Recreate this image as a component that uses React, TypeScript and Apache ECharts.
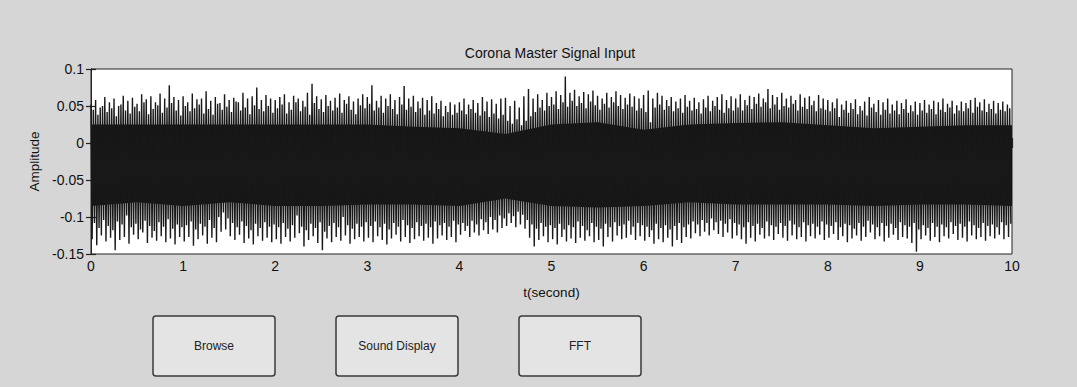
import React, { useEffect, useRef } from "react";
import * as echarts from "echarts";

// ---- Data ----
const TITLE = "Corona Master Signal Input";
const X_NAME = "t(second)";
const Y_NAME = "Amplitude";
const BUTTONS = ["Browse", "Sound Display", "FFT"];

// tall upper spike tips, one every 0.05 s starting at t = 0
const upTips = [
  0.052, 0.058, 0.048, 0.062, 0.055, 0.06, 0.05, 0.064, 0.057, 0.061, 0.053, 0.066, 0.059, 0.063, 0.055, 0.067, 0.06, 0.078, 0.062, 0.058,
  0.063, 0.055, 0.067, 0.059, 0.06, 0.07, 0.057, 0.062, 0.054, 0.066, 0.058, 0.061, 0.055, 0.068, 0.06, 0.063, 0.075, 0.058, 0.065, 0.06,
  0.058, 0.062, 0.066, 0.055, 0.064, 0.06, 0.057, 0.068, 0.08, 0.063, 0.059, 0.065, 0.057, 0.061, 0.067, 0.058, 0.063, 0.056, 0.06, 0.066,
  0.062, 0.078, 0.057, 0.064, 0.06, 0.066, 0.058, 0.062, 0.077, 0.06, 0.064, 0.056, 0.061, 0.058, 0.063, 0.054, 0.057, 0.05, 0.055, 0.052,
  0.055, 0.06, 0.052, 0.058, 0.054, 0.062, 0.056, 0.059, 0.053, 0.06, 0.061, 0.05, 0.057, 0.048, 0.063, 0.073, 0.06, 0.066, 0.058, 0.068,
  0.062, 0.07, 0.065, 0.09, 0.068, 0.072, 0.063, 0.069, 0.066, 0.071, 0.064, 0.06, 0.068, 0.062, 0.07, 0.065, 0.061, 0.067, 0.063, 0.06,
  0.065, 0.071, 0.06, 0.068, 0.064, 0.058, 0.062, 0.056, 0.06, 0.065, 0.057, 0.061, 0.055, 0.059, 0.064, 0.057, 0.062, 0.066, 0.058, 0.063,
  0.06, 0.066, 0.058, 0.064, 0.062, 0.067, 0.06, 0.073, 0.065, 0.062, 0.068, 0.06, 0.064, 0.058, 0.066, 0.061, 0.063, 0.057, 0.065, 0.06,
  0.058, 0.055, 0.06, 0.052, 0.057, 0.054, 0.059, 0.05, 0.056, 0.062, 0.053, 0.058, 0.055, 0.06, 0.052, 0.057, 0.054, 0.059, 0.051, 0.056,
  0.054, 0.058, 0.052, 0.057, 0.055, 0.06, 0.053, 0.057, 0.051, 0.056, 0.054, 0.058, 0.061, 0.055, 0.059, 0.053, 0.057, 0.054, 0.056, 0.052,
];

// tall lower spike tips, one every 0.05 s starting at t = 0.0125
const downTips = [
  -0.13, -0.138, -0.125, -0.133, -0.128, -0.145, -0.131, -0.127, -0.136, -0.124, -0.13, -0.121, -0.135, -0.128, -0.132, -0.126, -0.134, -0.129, -0.137, -0.127,
  -0.133, -0.127, -0.139, -0.13, -0.125, -0.136, -0.128, -0.134, -0.12, -0.117, -0.126, -0.131, -0.124, -0.135, -0.129, -0.137, -0.126, -0.132, -0.128, -0.134,
  -0.13, -0.136, -0.127, -0.133, -0.128, -0.122, -0.14, -0.131, -0.126, -0.135, -0.145, -0.129, -0.134, -0.127, -0.132, -0.125, -0.136, -0.13, -0.127, -0.133,
  -0.128, -0.134, -0.126, -0.131, -0.137, -0.129, -0.124, -0.133, -0.127, -0.135, -0.13, -0.126, -0.132, -0.128, -0.136, -0.129, -0.125, -0.131, -0.127, -0.134,
  -0.124, -0.119, -0.127, -0.121, -0.125, -0.118, -0.123, -0.117, -0.121, -0.115, -0.112, -0.108, -0.114, -0.11, -0.116, -0.128, -0.14, -0.131, -0.126, -0.134,
  -0.13, -0.137, -0.127, -0.133, -0.129, -0.135, -0.128, -0.132, -0.126, -0.134, -0.131, -0.14, -0.127, -0.133, -0.125, -0.13, -0.128, -0.124, -0.131, -0.126,
  -0.132, -0.127, -0.136, -0.13, -0.134, -0.128, -0.14, -0.131, -0.135, -0.127, -0.129, -0.122, -0.126, -0.12, -0.125, -0.118, -0.123, -0.127, -0.121, -0.129,
  -0.125, -0.13, -0.136, -0.128, -0.133, -0.124, -0.129, -0.126, -0.131, -0.123, -0.128, -0.132, -0.125, -0.13, -0.127, -0.133, -0.126, -0.129, -0.124, -0.131,
  -0.128, -0.123, -0.131, -0.126, -0.134, -0.129, -0.125, -0.132, -0.127, -0.121, -0.13, -0.126, -0.133, -0.128, -0.124, -0.131, -0.127, -0.129, -0.135, -0.147,
  -0.13, -0.125, -0.132, -0.127, -0.134, -0.126, -0.129, -0.123, -0.131, -0.128, -0.133, -0.125, -0.13, -0.127, -0.132, -0.126, -0.129, -0.124, -0.13, -0.127,
];

// shorter upper peaks forming the ragged dark edge, every 0.05 s starting at t = 0.025
const upEdge = [
  0.045, 0.038, 0.05, 0.042, 0.047, 0.036, 0.052, 0.044, 0.04, 0.049, 0.043, 0.055, 0.039, 0.046, 0.051, 0.041, 0.048, 0.054, 0.044, 0.037,
  0.05, 0.043, 0.047, 0.052, 0.04, 0.046, 0.038, 0.053, 0.045, 0.049, 0.042, 0.056, 0.044, 0.048, 0.039, 0.051, 0.046, 0.043, 0.05, 0.041,
  0.047, 0.052, 0.04, 0.045, 0.055, 0.043, 0.049, 0.038, 0.054, 0.046, 0.042, 0.05, 0.044, 0.048, 0.041, 0.053, 0.045, 0.039, 0.051, 0.047,
  0.053, 0.044, 0.048, 0.041, 0.05, 0.046, 0.039, 0.052, 0.045, 0.049, 0.042, 0.047, 0.038, 0.044, 0.04, 0.046, 0.036, 0.042, 0.038, 0.041,
  0.044, 0.039, 0.046, 0.041, 0.037, 0.043, 0.035, 0.04, 0.033, 0.038, 0.03, 0.026, 0.032, 0.024, 0.03, 0.036, 0.042, 0.048, 0.044, 0.05,
  0.052, 0.046, 0.055, 0.049, 0.057, 0.05, 0.054, 0.047, 0.056, 0.051, 0.045, 0.053, 0.048, 0.055, 0.05, 0.046, 0.052, 0.049, 0.044, 0.047,
  0.042, 0.028, 0.048, 0.052, 0.045, 0.05, 0.043, 0.047, 0.041, 0.049, 0.044, 0.046, 0.04, 0.048, 0.043, 0.05, 0.045, 0.041, 0.047, 0.044,
  0.048, 0.044, 0.051, 0.046, 0.053, 0.049, 0.055, 0.047, 0.052, 0.045, 0.05, 0.048, 0.053, 0.044, 0.049, 0.046, 0.051, 0.043, 0.047, 0.045,
  0.043, 0.047, 0.035, 0.045, 0.041, 0.046, 0.039, 0.044, 0.037, 0.048, 0.042, 0.038, 0.045, 0.04, 0.044, 0.039, 0.046, 0.041, 0.043, 0.038,
  0.044, 0.041, 0.046, 0.039, 0.045, 0.042, 0.048, 0.04, 0.044, 0.043, 0.047, 0.041, 0.049, 0.044, 0.042, 0.046, 0.04, 0.045, 0.043, 0.047,
];

// shorter lower troughs forming the ragged dark edge, every 0.05 s starting at t = 0.0375
const downEdge = [
  -0.108, -0.115, -0.104, -0.112, -0.118, -0.106, -0.11, -0.098, -0.114, -0.109, -0.117, -0.105, -0.112, -0.119, -0.107, -0.113, -0.103, -0.116, -0.11, -0.114,
  -0.111, -0.106, -0.117, -0.109, -0.113, -0.104, -0.115, -0.1, -0.094, -0.102, -0.108, -0.114, -0.106, -0.112, -0.118, -0.109, -0.115, -0.107, -0.113, -0.11,
  -0.114, -0.108, -0.116, -0.111, -0.098, -0.113, -0.118, -0.109, -0.115, -0.107, -0.12, -0.112, -0.108, -0.114, -0.1, -0.111, -0.116, -0.109, -0.113, -0.107,
  -0.112, -0.106, -0.114, -0.109, -0.117, -0.108, -0.113, -0.104, -0.111, -0.115, -0.107, -0.112, -0.109, -0.114, -0.106, -0.111, -0.108, -0.113, -0.105, -0.11,
  -0.108, -0.112, -0.105, -0.11, -0.103, -0.107, -0.1, -0.104, -0.098, -0.102, -0.095, -0.099, -0.093, -0.097, -0.104, -0.11, -0.116, -0.108, -0.113, -0.111,
  -0.115, -0.109, -0.117, -0.111, -0.114, -0.106, -0.112, -0.118, -0.108, -0.113, -0.116, -0.109, -0.114, -0.107, -0.112, -0.11, -0.105, -0.113, -0.108, -0.111,
  -0.113, -0.118, -0.109, -0.115, -0.111, -0.117, -0.112, -0.108, -0.114, -0.11, -0.106, -0.11, -0.104, -0.108, -0.102, -0.107, -0.105, -0.109, -0.103, -0.108,
  -0.11, -0.114, -0.107, -0.112, -0.109, -0.115, -0.106, -0.111, -0.113, -0.108, -0.112, -0.105, -0.11, -0.114, -0.107, -0.111, -0.109, -0.113, -0.106, -0.11,
  -0.112, -0.107, -0.114, -0.109, -0.111, -0.116, -0.108, -0.113, -0.105, -0.11, -0.114, -0.108, -0.112, -0.109, -0.115, -0.107, -0.111, -0.113, -0.108, -0.117,
  -0.111, -0.115, -0.108, -0.113, -0.11, -0.114, -0.107, -0.112, -0.109, -0.113, -0.106, -0.111, -0.115, -0.108, -0.112, -0.11, -0.114, -0.107, -0.111, -0.109,
];

// solid core of the signal, every 0.5 s
const bodyTimes = [0, 0.5, 1, 1.5, 2, 2.5, 3, 3.5, 4, 4.5, 5, 5.5, 6, 6.5, 7, 7.5, 8, 8.5, 9, 9.5, 10];
const bodyUpper = [
  0.025, 0.025, 0.025, 0.025, 0.025, 0.025, 0.025, 0.022, 0.02, 0.012, 0.025, 0.028, 0.018, 0.025, 0.027, 0.028, 0.024, 0.02, 0.022, 0.024, 0.024,
];
const bodyLower = [
  -0.085, -0.08, -0.085, -0.08, -0.085, -0.085, -0.083, -0.083, -0.085, -0.075, -0.085, -0.087, -0.085, -0.08, -0.083, -0.083, -0.083, -0.085, -0.083, -0.083, -0.085,
];

const SAMPLE_STEP = 0.05;
const X_TICKS = { min: 0, max: 10, interval: 1 };
const Y_TICKS = { min: -0.15, max: 0.1, interval: 0.05 };

const FONT = "'Liberation Sans', Arial, sans-serif";
const INK = "#131313";

export default function App() {
  const ref = useRef<HTMLDivElement>(null);

  useEffect(() => {
    if (!ref.current) return;
    const chart = echarts.init(ref.current, undefined, { renderer: "svg" });

    const q = SAMPLE_STEP / 4;
    const zigzag: [number, number][] = [];
    for (let k = 0; k < upTips.length; k++) {
      const t = k * SAMPLE_STEP;
      zigzag.push([t, upTips[k]]);
      zigzag.push([t + q, downTips[k]]);
      zigzag.push([t + 2 * q, upEdge[k]]);
      zigzag.push([t + 3 * q, downEdge[k]]);
    }

    const btnW = 122;
    const btnH = 60;
    const btnX = [153, 336, 519];
    const btnY = 316;

    const tickLabel = (v: number) => String(Math.round(v * 100) / 100);

    const axisCommon = {
      axisLine: { show: true, lineStyle: { color: "#222", width: 1 } },
      axisTick: { show: true, inside: true, length: 5, lineStyle: { color: "#222", width: 1.2 } },
      splitLine: { show: false },
    };

    chart.setOption({
      animation: false,
      backgroundColor: "#d6d6d6",
      textStyle: { fontFamily: FONT },
      grid: {
        left: 91,
        right: 65,
        top: 69,
        bottom: 133,
        show: true,
        backgroundColor: "#ffffff",
        borderColor: "#222",
        borderWidth: 1,
      },
      xAxis: [
        {
          type: "value",
          ...X_TICKS,
          position: "bottom",
          ...axisCommon,
          axisLabel: { color: "#111", fontSize: 14, margin: 5, fontFamily: FONT, formatter: tickLabel },
          name: X_NAME,
          nameLocation: "middle",
          nameGap: 31,
          nameTextStyle: { color: "#111", fontSize: 13.5, fontFamily: FONT },
        },
        {
          type: "value",
          ...X_TICKS,
          position: "top",
          ...axisCommon,
          axisLabel: { show: false },
        },
      ],
      yAxis: [
        {
          type: "value",
          ...Y_TICKS,
          position: "left",
          ...axisCommon,
          axisLabel: { color: "#111", fontSize: 14, margin: 7, fontFamily: FONT, formatter: tickLabel },
          name: Y_NAME,
          nameLocation: "middle",
          nameRotate: 90,
          nameGap: 50,
          nameTextStyle: { color: "#111", fontSize: 13.5, fontFamily: FONT },
        },
        {
          type: "value",
          ...Y_TICKS,
          position: "right",
          ...axisCommon,
          axisLabel: { show: false },
        },
      ],
      series: [
        {
          type: "line",
          data: bodyTimes.map((t, i) => [t, bodyUpper[i]]),
          symbol: "none",
          lineStyle: { width: 0 },
          areaStyle: { color: INK, opacity: 1 },
          silent: true,
          z: 2,
        },
        {
          type: "line",
          data: bodyTimes.map((t, i) => [t, bodyLower[i]]),
          symbol: "none",
          lineStyle: { width: 0 },
          areaStyle: { color: INK, opacity: 1 },
          silent: true,
          z: 2,
        },
        {
          type: "line",
          data: zigzag,
          symbol: "none",
          lineStyle: { color: "#181818", width: 1.4 },
          silent: true,
          z: 3,
        },
      ],
      graphic: [
        {
          type: "text",
          x: 550,
          y: 53,
          style: {
            text: TITLE,
            fill: "#111",
            font: `14px ${FONT}`,
            align: "center",
            verticalAlign: "middle",
          },
        },
        ...BUTTONS.map((label, i) => ({
          type: "group",
          x: btnX[i],
          y: btnY,
          children: [
            {
              type: "rect",
              shape: { x: 0, y: 0, width: btnW, height: btnH, r: 3 },
              style: { fill: "#e4e4e4", stroke: "#3a3a3a", lineWidth: 1.5 },
            },
            {
              type: "text",
              x: btnW / 2,
              y: btnH / 2,
              style: {
                text: label,
                fill: "#222",
                font: `12px ${FONT}`,
                align: "center",
                verticalAlign: "middle",
              },
            },
          ],
        })),
      ],
    });

    return () => chart.dispose();
  }, []);

  return (
    <div
      ref={ref}
      style={{ position: "absolute", left: 0, top: 0, width: 1077, height: 387 }}
    />
  );
}
